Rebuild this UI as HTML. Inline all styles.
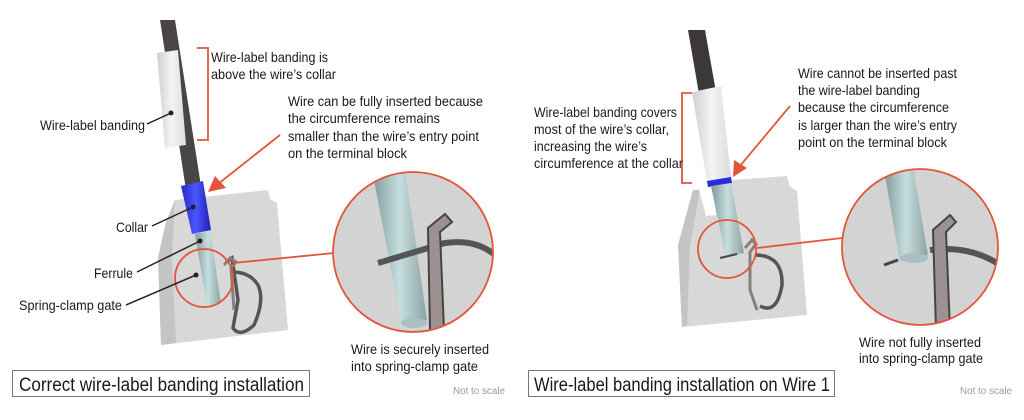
<!DOCTYPE html>
<html><head><meta charset="utf-8"><style>
html,body{margin:0;padding:0;background:#fff;width:1024px;height:420px;overflow:hidden}
svg{display:block}
text{font-family:"Liberation Sans",sans-serif;fill:#1a1a1a;font-size:14px}
</style></head><body>
<svg width="1024" height="420" viewBox="0 0 1024 420" xmlns="http://www.w3.org/2000/svg">
<defs>
<linearGradient id="fer" x1="0" x2="1"><stop offset="0" stop-color="#7f9a9a"/><stop offset="0.5" stop-color="#c7dede"/><stop offset="1" stop-color="#8aa3a3"/></linearGradient>
<linearGradient id="wht" x1="0" x2="1"><stop offset="0" stop-color="#cfcfcf"/><stop offset="0.5" stop-color="#f4f4f4"/><stop offset="1" stop-color="#dcdcdc"/></linearGradient>
<linearGradient id="blu" x1="0" x2="1"><stop offset="0" stop-color="#2a2ac8"/><stop offset="0.5" stop-color="#4a55ff"/><stop offset="1" stop-color="#2020b0"/></linearGradient>
<clipPath id="cl1"><circle cx="413" cy="252" r="79"/></clipPath>
<clipPath id="cl2"><circle cx="920" cy="247" r="78"/></clipPath>
</defs>

<!-- LEFT -->
<polygon points="175,200 268,190 270,199 277,203 288,330 161,345 158,258 166,222" fill="#d8d8d8"/>
<polygon points="161,345 158,258 166,222 175,200 172,258 176,343" fill="#c4c4c4"/>
<polygon points="160,20 175,20 201,186 186,190" fill="#4a4545"/>
<polygon points="157,53 178,50 186,145 165,148" fill="url(#wht)"/>
<polygon points="181,186 203,181 211,230 192,234" fill="url(#blu)"/>
<polygon points="195,234 210,231 221,303 207,306" fill="url(#fer)"/>
<path d="M226,262 L232,258 L238,300 L233,328 Q240,338 254,325 Q265,300 258,285 Q250,272 232,272" fill="none" stroke="#555" stroke-width="3.5"/>
<path d="M224,265 L230,258 L236,262 L231,268 L234,310" fill="none" stroke="#8a7f7f" stroke-width="3"/>
<circle cx="204" cy="278" r="29" fill="none" stroke="#e2553c" stroke-width="1.8"/>
<line x1="233" y1="263" x2="334" y2="253" stroke="#e2553c" stroke-width="1.8"/>
<circle cx="413" cy="252" r="80" fill="#d3d3d3"/>
<g clip-path="url(#cl1)">
<polygon points="372,170 405,170 427,320 402,326" fill="url(#fer)"/>
<ellipse cx="414" cy="323" rx="13" ry="5" fill="#a9c0c0"/>
<path d="M378,263 L445,243 Q480,238 500,260" fill="none" stroke="#555" stroke-width="6"/>
<path d="M430,330 L428,228 L445,214 L452,222 L440,232 L444,330" fill="#9d9090" stroke="#444" stroke-width="2"/>
</g>
<circle cx="413" cy="252" r="80" fill="none" stroke="#e2553c" stroke-width="1.8"/>
<path d="M197,48 L208,48 L208,140 L197,140" fill="none" stroke="#e2553c" stroke-width="1.8"/>
<line x1="280" y1="135" x2="218" y2="184" stroke="#e2553c" stroke-width="1.8"/>
<polygon points="208,192 215,176 226,188" fill="#e2553c"/>
<g stroke="#222" stroke-width="1.5" fill="none">
<line x1="147" y1="124" x2="171" y2="113"/><line x1="152" y1="226" x2="193" y2="207"/>
<line x1="137" y1="272" x2="200" y2="241"/><line x1="126" y1="305" x2="196" y2="275"/>
</g>
<g fill="#222"><circle cx="171" cy="113" r="2.5"/><circle cx="193" cy="207" r="2.5"/><circle cx="200" cy="241" r="2.5"/><circle cx="196" cy="275" r="2.5"/></g>
<g lengthAdjust="spacingAndGlyphs">
<text x="211" y="62" textLength="117" lengthAdjust="spacingAndGlyphs">Wire-label banding is</text>
<text x="211" y="79" textLength="125" lengthAdjust="spacingAndGlyphs">above the wire’s collar</text>
<text x="288" y="106" textLength="195" lengthAdjust="spacingAndGlyphs">Wire can be fully inserted because</text>
<text x="288" y="123" textLength="152" lengthAdjust="spacingAndGlyphs">the circumference remains</text>
<text x="288" y="141" textLength="191" lengthAdjust="spacingAndGlyphs">smaller than the wire’s entry point</text>
<text x="288" y="158" textLength="119" lengthAdjust="spacingAndGlyphs">on the terminal block</text>
<text x="40" y="130" textLength="105" lengthAdjust="spacingAndGlyphs">Wire-label banding</text>
<text x="116" y="232" textLength="32" lengthAdjust="spacingAndGlyphs">Collar</text>
<text x="94" y="278" textLength="39" lengthAdjust="spacingAndGlyphs">Ferrule</text>
<text x="19" y="310" textLength="103" lengthAdjust="spacingAndGlyphs">Spring-clamp gate</text>
<text x="351" y="354" textLength="138" lengthAdjust="spacingAndGlyphs">Wire is securely inserted</text>
<text x="351" y="371" textLength="127" lengthAdjust="spacingAndGlyphs">into spring-clamp gate</text>
</g>
<rect x="12.5" y="370.5" width="297" height="26" fill="none" stroke="#777" stroke-width="1"/>
<text x="19" y="391" style="font-size:19px" textLength="285" lengthAdjust="spacingAndGlyphs">Correct wire-label banding installation</text>
<text x="453" y="394" style="font-size:10px;fill:#999" textLength="52" lengthAdjust="spacingAndGlyphs">Not to scale</text>

<!-- RIGHT -->
<polygon points="733,180 787,176 790,187 797,191 807,315 682,327 678,245 693,190 713,188" fill="#d8d8d8"/>
<polygon points="682,327 678,245 693,190 700,190 690,246 687,325" fill="#c4c4c4"/>
<polygon points="698,186 713,184 716,215 706,216" fill="#fff"/>
<polygon points="688,30 705,30 716,92 699,94" fill="#3d3838"/>
<polygon points="692,92 721,86 731,177 707,182" fill="url(#wht)"/>
<polygon points="707,181 731,177 732,183 708,187" fill="#2a2ae0"/>
<polygon points="711,186 731,183 744,253 726,257" fill="url(#fer)"/>
<path d="M720,258 L737,254" stroke="#444" stroke-width="2"/>
<path d="M745,248 L752,240 L756,244 L750,252 L750,290 L757,310" fill="none" stroke="#8a7f7f" stroke-width="3"/>
<path d="M755,255 Q783,255 782,285 Q777,315 760,306" fill="none" stroke="#555" stroke-width="3.5"/>
<circle cx="727" cy="249" r="29" fill="none" stroke="#e2553c" stroke-width="1.8"/>
<line x1="757" y1="248" x2="842" y2="238" stroke="#e2553c" stroke-width="1.8"/>
<circle cx="920" cy="247" r="78" fill="#d3d3d3"/>
<g clip-path="url(#cl2)">
<polygon points="884,170 913,168 928,255 900,262" fill="url(#fer)"/>
<ellipse cx="914" cy="258" rx="14" ry="5" fill="#a9c0c0"/>
<path d="M884,265 L898,260" stroke="#444" stroke-width="3"/>
<path d="M930,250 Q970,245 1000,265" fill="none" stroke="#555" stroke-width="6"/>
<path d="M936,330 L933,230 L950,215 L956,222 L946,232 L950,330" fill="#9d9090" stroke="#444" stroke-width="2"/>
</g>
<circle cx="920" cy="247" r="78" fill="none" stroke="#e2553c" stroke-width="1.8"/>
<path d="M692,93 L682,93 L682,183 L692,183" fill="none" stroke="#e2553c" stroke-width="1.8"/>
<line x1="790" y1="106" x2="740" y2="166" stroke="#e2553c" stroke-width="1.8"/>
<polygon points="733,177 734,160 747,168" fill="#e2553c"/>
<text x="534" y="117" textLength="143" lengthAdjust="spacingAndGlyphs">Wire-label banding covers</text>
<text x="534" y="134" textLength="135" lengthAdjust="spacingAndGlyphs">most of the wire’s collar,</text>
<text x="534" y="151" textLength="113" lengthAdjust="spacingAndGlyphs">increasing the wire’s</text>
<text x="534" y="168" textLength="149" lengthAdjust="spacingAndGlyphs">circumference at the collar</text>
<text x="798" y="78" textLength="159" lengthAdjust="spacingAndGlyphs">Wire cannot be inserted past</text>
<text x="798" y="95" textLength="122" lengthAdjust="spacingAndGlyphs">the wire-label banding</text>
<text x="798" y="112" textLength="151" lengthAdjust="spacingAndGlyphs">because the circumference</text>
<text x="798" y="130" textLength="159" lengthAdjust="spacingAndGlyphs">is larger than the wire’s entry</text>
<text x="798" y="147" textLength="149" lengthAdjust="spacingAndGlyphs">point on the terminal block</text>
<text x="859" y="347" textLength="122" lengthAdjust="spacingAndGlyphs">Wire not fully inserted</text>
<text x="859" y="363" textLength="124" lengthAdjust="spacingAndGlyphs">into spring-clamp gate</text>
<rect x="528.5" y="370.5" width="306" height="26" fill="none" stroke="#777" stroke-width="1"/>
<text x="534" y="391" style="font-size:19px" textLength="296" lengthAdjust="spacingAndGlyphs">Wire-label banding installation on Wire 1</text>
<text x="960" y="394" style="font-size:10px;fill:#999" textLength="52" lengthAdjust="spacingAndGlyphs">Not to scale</text>
</svg>
</body></html>
